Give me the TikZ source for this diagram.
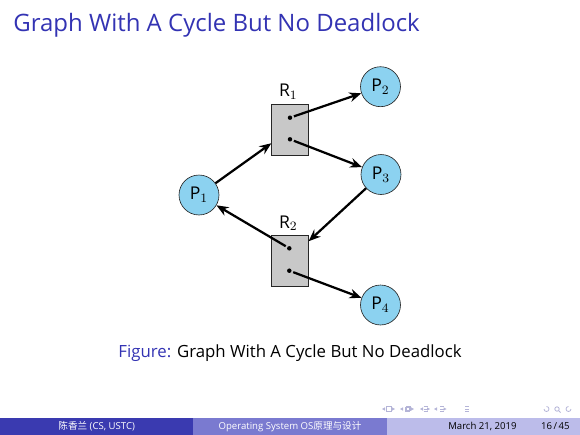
\documentclass[tikz,border=0pt]{standalone}
\usepackage{fontspec}
\setmainfont{Open Sans}
\newfontfamily\cjkfont{Noto Sans CJK SC}
\usetikzlibrary{arrows.meta}
\definecolor{structblue}{RGB}{51,51,179}
\definecolor{procblue}{RGB}{140,210,240}
\definecolor{resgray}{RGB}{200,200,200}
\definecolor{footdark}{RGB}{58,58,176}
\definecolor{footmid}{RGB}{122,122,208}
\definecolor{footlight}{RGB}{188,188,234}
\definecolor{navgray}{RGB}{180,180,215}
\tikzset{
  proc/.style={circle,draw=black!85,fill=procblue,minimum size=25pt,inner sep=0pt,font=\fontsize{11}{13}\selectfont},
  res/.style={rectangle,draw=black!85,fill=resgray,minimum width=22.9pt,minimum height=31.9pt,inner sep=0pt},
  reslabel/.style={font=\fontsize{11}{13}\selectfont,inner sep=0pt},
  inst/.style={circle,fill=black,minimum size=2.8pt,inner sep=0pt,outer sep=1.2pt},
  edge/.style={-{Stealth[length=7.5pt,width=6pt,inset=2.5pt]},line width=1.4pt,black},
  foottext/.style={font=\fontsize{6}{7}\selectfont,inner sep=0pt}
}
\begin{document}
\begin{tikzpicture}[x=0.6255pt,y=-0.6255pt]
\useasboundingbox (0,0) rectangle (580,435);
% frame title
\node[anchor=base west,inner sep=0pt,text=structblue,font=\fontsize{15}{18}\selectfont] (title) at (13,31) {Graph With A Cycle But No Deadlock};
% resources with instances
\node[res] (R1) at (290,129.7) {};
\node[res] (R2) at (290,261.2) {};
\node[reslabel] (R1lbl) at (288.3,91.7) {R$_1$};
\node[reslabel] (R2lbl) at (288.3,223.3) {R$_2$};
\node[inst] (r1a) at (290,117.7) {};
\node[inst] (r1b) at (290,139.3) {};
\node[inst] (r2a) at (289.3,248.3) {};
\node[inst] (r2b) at (289.3,270.7) {};
% processes
\node[proc] (P1) at (199,195) {P$_1$};
\node[proc] (P2) at (380.5,86.7) {P$_2$};
\node[proc] (P3) at (381,174.5) {P$_3$};
\node[proc] (P4) at (380.5,305) {P$_4$};
% requests and assignments
\draw[edge] (P1) -- (R1.216);
\draw[edge] (r1a) -- (P2);
\draw[edge] (r1b) -- (P3);
\draw[edge] (P3) -- (R2.47);
\draw[edge] (r2a) -- (P1);
\draw[edge] (r2b) -- (P4);
% caption
\node[font=\fontsize{10.5}{12.5}\selectfont,inner sep=0pt] (caption) at (290,353) {\textcolor{structblue}{Figure:} Graph With A Cycle But No Deadlock};
% navigation symbols
\foreach \x in {382,400,420,434} \fill[navgray] (\x,409) -- (\x+3,407.3) -- (\x+3,410.7) -- cycle;
\foreach \x in {395,414,430,446.5} \fill[navgray] (\x,409) -- (\x-3,407.3) -- (\x-3,410.7) -- cycle;
\draw[navgray,line width=0.4pt] (386.5,406.5) rectangle (391,411.5);
\draw[navgray,line width=0.4pt] (405,407) rectangle (409,411.5) (406.5,406) rectangle (410.5,410.5);
\foreach \x in {423.5,440,465} \draw[navgray,line width=0.5pt] (\x,406.8) -- ++(4,0) (\x,409) -- ++(4,0) (\x,411.2) -- ++(4,0);
\draw[navgray,line width=0.5pt] (544,409) arc (180:-90:2.5) (557,409) circle (2.2) (571,409) arc (0:270:2.5);
\draw[navgray,line width=0.5pt] (558.6,410.6) -- (560.5,412.5);
% footline
\fill[footdark] (0,417.5) rectangle (193.3,435);
\fill[footmid] (193.3,417.5) rectangle (386.7,435);
\fill[footlight] (386.7,417.5) rectangle (580,435);
\node[foottext,text=white] (author) at (96.7,426.5) {{\cjkfont 陈香兰}\ (CS, USTC)};
\node[foottext,text=white] (course) at (290,426.5) {Operating System OS{\cjkfont 原理与设计}};
\node[foottext,anchor=east] (date) at (517,426.5) {March 21, 2019};
\node[foottext,anchor=east] (page) at (570,426.5) {16\,/\,45};
\end{tikzpicture}
\end{document}
